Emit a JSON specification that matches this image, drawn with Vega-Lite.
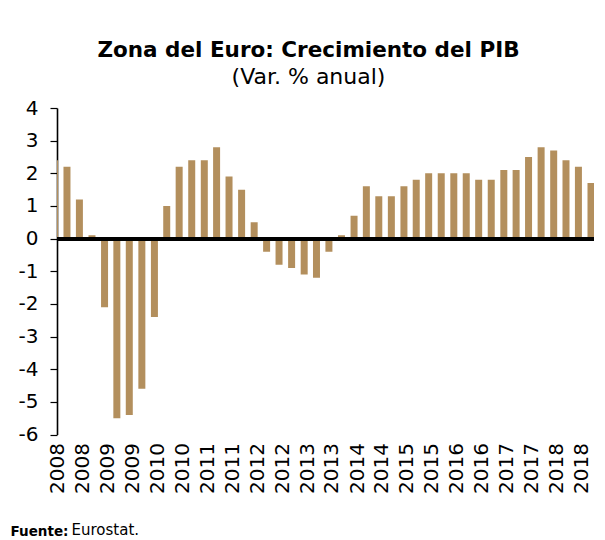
{
  "$schema": "https://vega.github.io/schema/vega-lite/v6.json",
  "autosize": {"type": "none"},
  "width": 537,
  "height": 326.5,
  "padding": {"left": 57, "top": 108, "right": 11, "bottom": 105.5},
  "background": "white",
  "config": {
    "view": {"stroke": null},
    "font": "DejaVu Sans",
    "axisY": {
      "values": [-6, -5, -4, -3, -2, -1, 0, 1, 2, 3, 4],
      "labelExpr": "toString(datum.value)",
      "labelOverlap": false,
      "grid": false,
      "domainColor": "black",
      "domainWidth": 1.6,
      "tickColor": "black",
      "tickWidth": 1.2,
      "tickSize": 7,
      "labelFontSize": 20,
      "labelColor": "black",
      "labelPadding": 12,
      "labelFont": "DejaVu Sans"
    }
  },
  "title": {
    "text": "Zona del Euro: Crecimiento del PIB",
    "subtitle": "(Var. % anual)",
    "font": "DejaVu Sans",
    "fontSize": 21.5,
    "fontWeight": "bold",
    "color": "black",
    "subtitleFont": "DejaVu Sans",
    "subtitleFontSize": 22,
    "subtitleColor": "black",
    "subtitlePadding": 6,
    "anchor": "middle",
    "dx": -17,
    "offset": 10
  },
  "data": {
    "values": [
      {"date": "2008-01-01", "pib": 2.4},
      {"date": "2008-04-01", "pib": 2.2},
      {"date": "2008-07-01", "pib": 1.2},
      {"date": "2008-10-01", "pib": 0.1},
      {"date": "2009-01-01", "pib": -2.1},
      {"date": "2009-04-01", "pib": -5.5},
      {"date": "2009-07-01", "pib": -5.4},
      {"date": "2009-10-01", "pib": -4.6},
      {"date": "2010-01-01", "pib": -2.4},
      {"date": "2010-04-01", "pib": 1.0},
      {"date": "2010-07-01", "pib": 2.2},
      {"date": "2010-10-01", "pib": 2.4},
      {"date": "2011-01-01", "pib": 2.4},
      {"date": "2011-04-01", "pib": 2.8},
      {"date": "2011-07-01", "pib": 1.9},
      {"date": "2011-10-01", "pib": 1.5},
      {"date": "2012-01-01", "pib": 0.5},
      {"date": "2012-04-01", "pib": -0.4},
      {"date": "2012-07-01", "pib": -0.8},
      {"date": "2012-10-01", "pib": -0.9},
      {"date": "2013-01-01", "pib": -1.1},
      {"date": "2013-04-01", "pib": -1.2},
      {"date": "2013-07-01", "pib": -0.4},
      {"date": "2013-10-01", "pib": 0.1},
      {"date": "2014-01-01", "pib": 0.7},
      {"date": "2014-04-01", "pib": 1.6},
      {"date": "2014-07-01", "pib": 1.3},
      {"date": "2014-10-01", "pib": 1.3},
      {"date": "2015-01-01", "pib": 1.6},
      {"date": "2015-04-01", "pib": 1.8},
      {"date": "2015-07-01", "pib": 2.0},
      {"date": "2015-10-01", "pib": 2.0},
      {"date": "2016-01-01", "pib": 2.0},
      {"date": "2016-04-01", "pib": 2.0},
      {"date": "2016-07-01", "pib": 1.8},
      {"date": "2016-10-01", "pib": 1.8},
      {"date": "2017-01-01", "pib": 2.1},
      {"date": "2017-04-01", "pib": 2.1},
      {"date": "2017-07-01", "pib": 2.5},
      {"date": "2017-10-01", "pib": 2.8},
      {"date": "2018-01-01", "pib": 2.7},
      {"date": "2018-04-01", "pib": 2.4},
      {"date": "2018-07-01", "pib": 2.2},
      {"date": "2018-10-01", "pib": 1.7}
    ]
  },
  "layer": [
    {
      "mark": {"type": "bar", "color": "#B38F5D", "size": 7, "clip": true},
      "encoding": {
        "x": {
          "field": "date",
          "type": "temporal",
          "scale": {
            "type": "utc",
            "padding": 0,
            "domain": [
              {"year": 2008, "month": 1, "date": 19, "utc": true},
              {"year": 2018, "month": 10, "date": 23, "utc": true}
            ]
          },
          "axis": {
            "labelExpr": "utcFormat(datum.value, '%Y')",
            "values": [
              {"year": 2008, "month": 1, "date": 23, "utc": true},
              {"year": 2008, "month": 7, "date": 23, "utc": true},
              {"year": 2009, "month": 1, "date": 23, "utc": true},
              {"year": 2009, "month": 7, "date": 23, "utc": true},
              {"year": 2010, "month": 1, "date": 23, "utc": true},
              {"year": 2010, "month": 7, "date": 23, "utc": true},
              {"year": 2011, "month": 1, "date": 23, "utc": true},
              {"year": 2011, "month": 7, "date": 23, "utc": true},
              {"year": 2012, "month": 1, "date": 23, "utc": true},
              {"year": 2012, "month": 7, "date": 23, "utc": true},
              {"year": 2013, "month": 1, "date": 23, "utc": true},
              {"year": 2013, "month": 7, "date": 23, "utc": true},
              {"year": 2014, "month": 1, "date": 23, "utc": true},
              {"year": 2014, "month": 7, "date": 23, "utc": true},
              {"year": 2015, "month": 1, "date": 23, "utc": true},
              {"year": 2015, "month": 7, "date": 23, "utc": true},
              {"year": 2016, "month": 1, "date": 23, "utc": true},
              {"year": 2016, "month": 7, "date": 23, "utc": true},
              {"year": 2017, "month": 1, "date": 23, "utc": true},
              {"year": 2017, "month": 7, "date": 23, "utc": true},
              {"year": 2018, "month": 1, "date": 23, "utc": true},
              {"year": 2018, "month": 7, "date": 23, "utc": true}
            ],
            "domain": false,
            "ticks": false,
            "grid": false,
            "labelAngle": -90,
            "labelAlign": "right",
            "labelBaseline": "middle",
            "labelFontSize": 20,
            "labelColor": "black",
            "labelPadding": 8,
            "labelOverlap": false,
            "labelFlush": false,
            "labelBound": false,
            "title": "Eurostat.",
            "titleFont": "DejaVu Sans",
            "titleFontSize": 15,
            "titleFontWeight": "normal",
            "titleColor": "black",
            "titleAngle": 0,
            "titleAlign": "left",
            "titleBaseline": "alphabetic",
            "titleX": 14,
            "titleY": 100
          }
        },
        "y": {
          "field": "pib",
          "type": "quantitative",
          "scale": {"domain": [-6, 4], "nice": false, "zero": false},
          "axis": {
            "values": [-6, -5, -4, -3, -2, -1, 0, 1, 2, 3, 4],
            "labelOverlap": false,
            "title": "Fuente:",
            "titleFont": "DejaVu Sans",
            "titleFontSize": 13.5,
            "titleFontWeight": "bold",
            "titleColor": "black",
            "titleAngle": 0,
            "titleAlign": "left",
            "titleBaseline": "alphabetic",
            "titleX": -47,
            "titleY": 427
          }
        }
      }
    },
    {
      "mark": {"type": "rule", "color": "black", "strokeWidth": 3.3},
      "encoding": {
        "y": {
          "datum": 0,
          "axis": {
            "values": [-6, -5, -4, -3, -2, -1, 0, 1, 2, 3, 4],
            "labelOverlap": false,
            "title": "Fuente:",
            "titleFont": "DejaVu Sans",
            "titleFontSize": 13.5,
            "titleFontWeight": "bold",
            "titleColor": "black",
            "titleAngle": 0,
            "titleAlign": "left",
            "titleBaseline": "alphabetic",
            "titleX": -47,
            "titleY": 427
          }
        }
      }
    }
  ]
}
